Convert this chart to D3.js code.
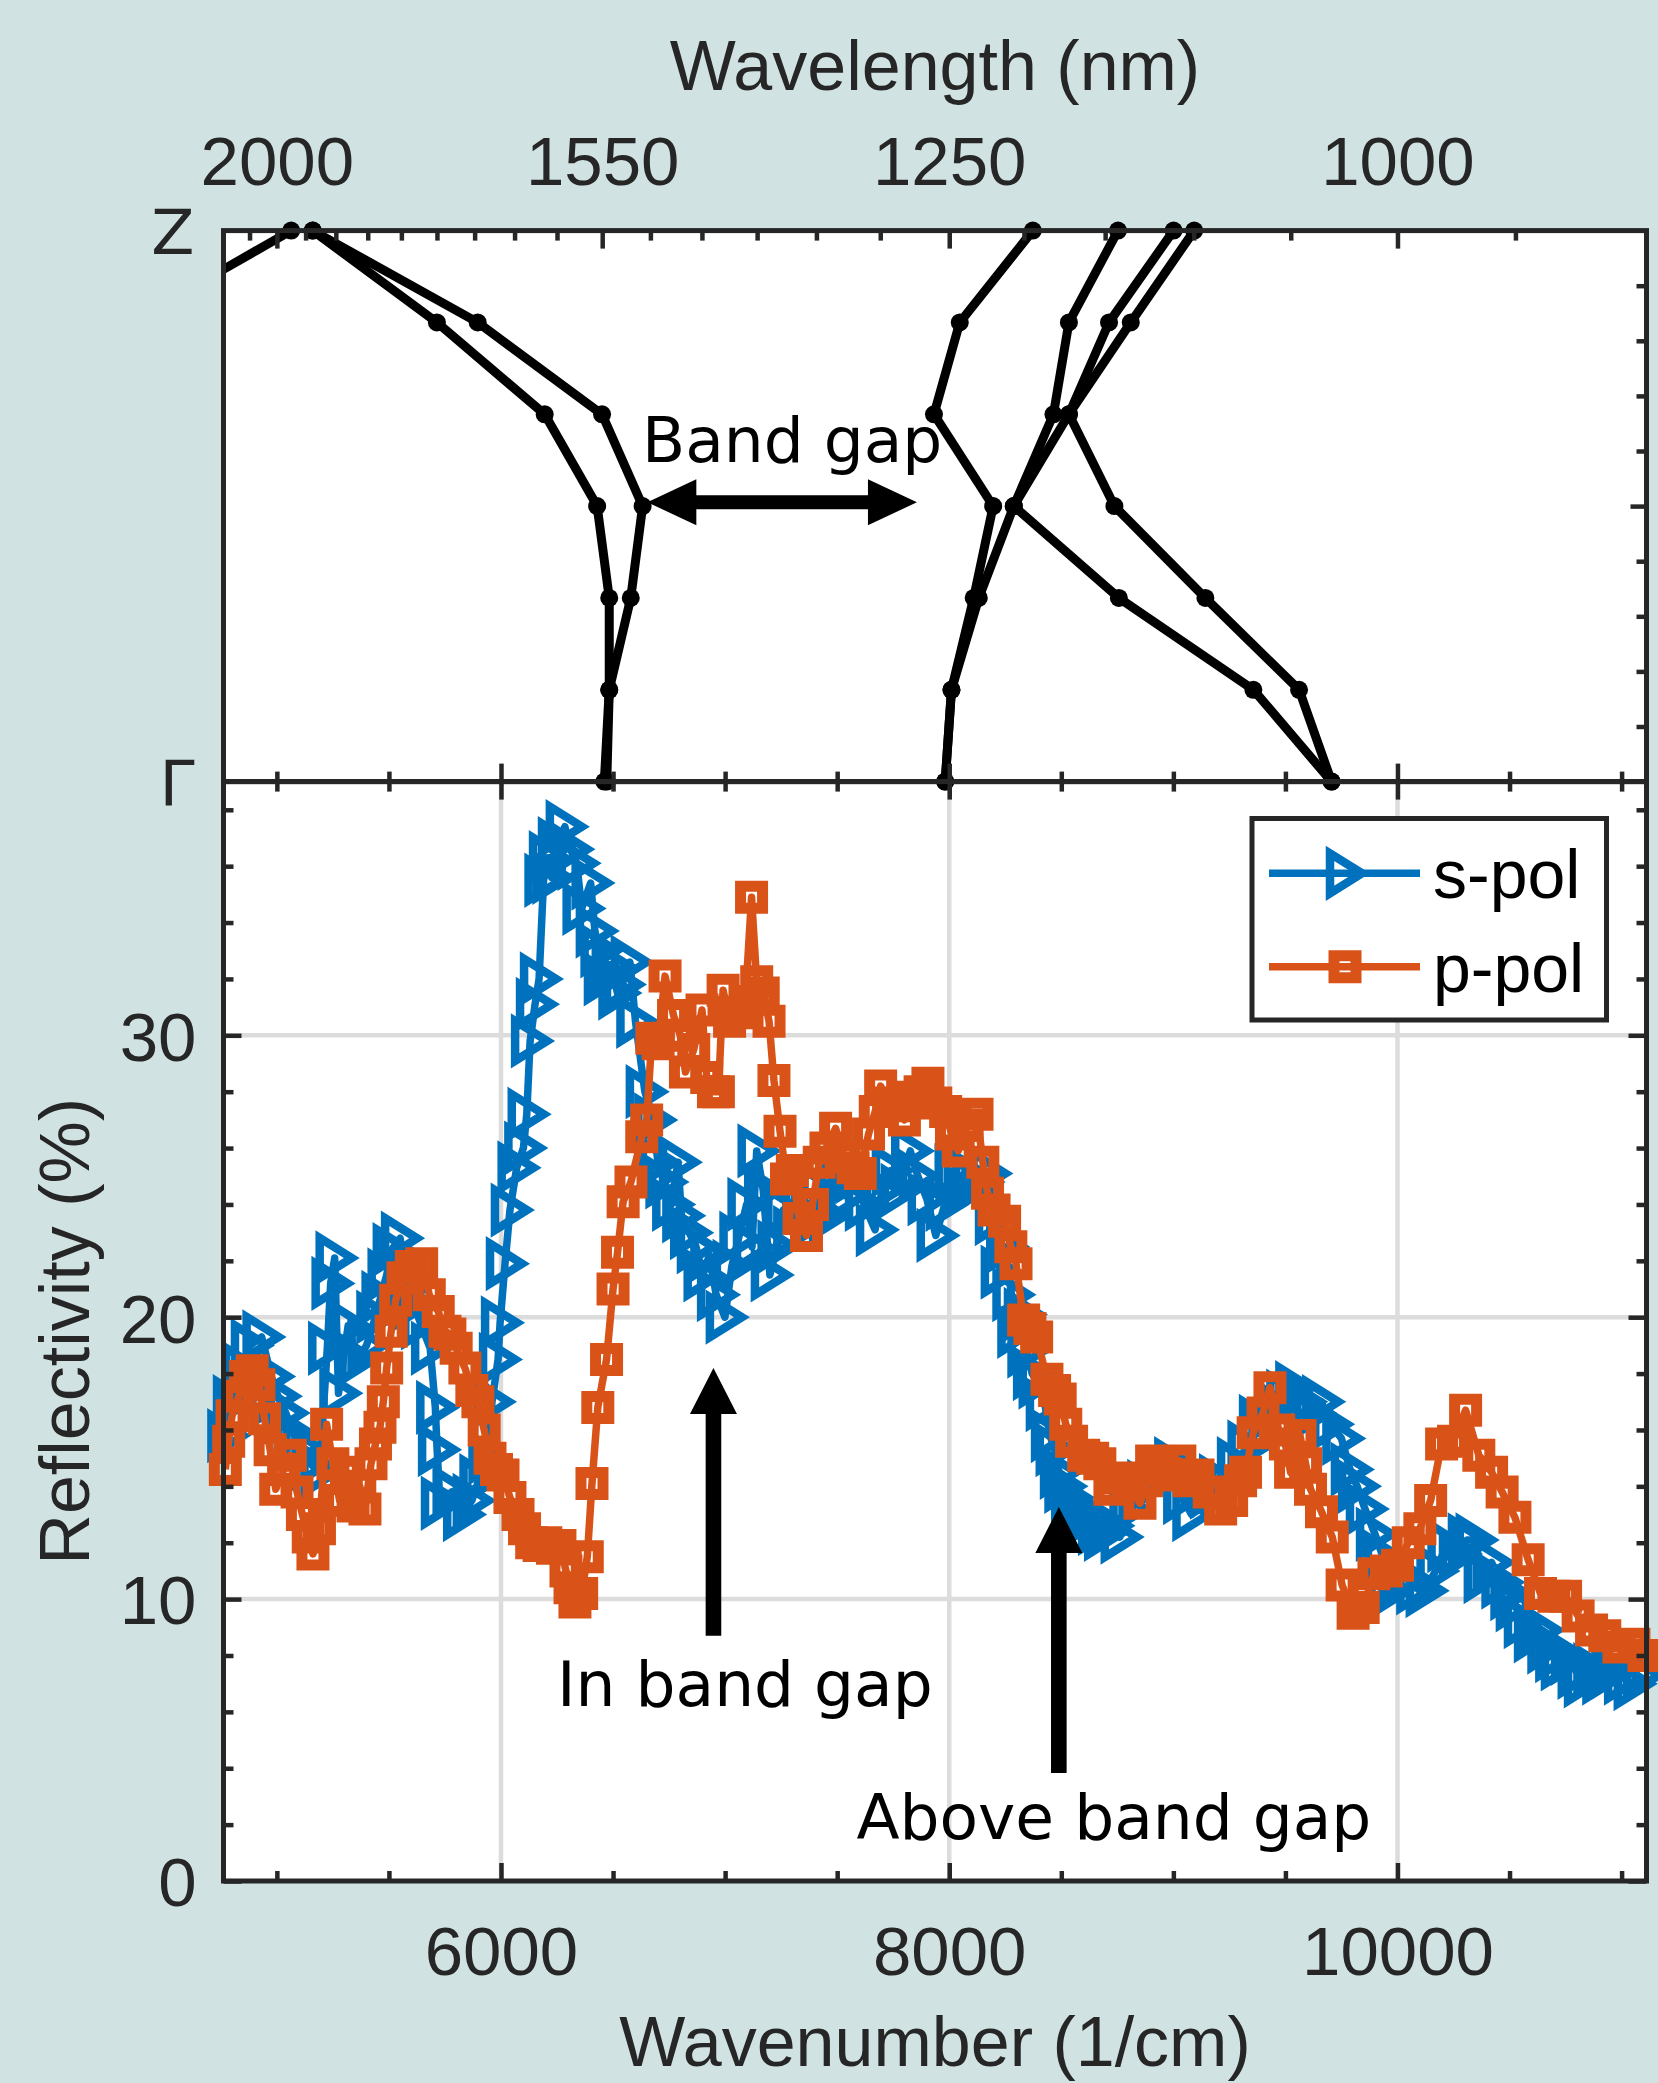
<!DOCTYPE html>
<html><head><meta charset="utf-8">
<script src="https://cdn.jsdelivr.net/npm/d3@7"></script>
<style>
html,body{margin:0;padding:0;background:#d0e3e2;}
svg{display:block;}
</style></head><body>
<svg id="chart" width="1658" height="2083"></svg>
<script>
// ---------------- DATA ----------------
// s-pol reflectivity (wavenumber 1/cm, %)
const sPolX = [4775,4800,4840,4880,4932,4975,5005,5040,5071,5110,5150,5190,5225,5240,5258,5275,5318,5360,5400,5440,5463,5490,5513,5550,5580,5610,5640,5684,5707,5715,5728,5780,5827,5870,5900,5940,5960,5987,5996,6018,6040,6070,6100,6115,6130,6152,6170,6190,6210,6226,6250,6285,6310,6338,6360,6400,6419,6440,6455,6490,6520,6540,6575,6600,6642,6680,6700,6730,6760,6790,6805,6840,6870,6900,6930,6960,6999,7030,7060,7096,7120,7141,7170,7200,7230,7260,7300,7340,7380,7420,7460,7500,7541,7580,7620,7669,7700,7740,7780,7826,7860,7900,7940,7980,8020,8060,8098,8140,8175,8200,8226,8250,8278,8300,8329,8345,8370,8395,8427,8450,8471,8490,8510,8540,8570,8600,8635,8660,8687,8720,8761,8800,8840,8880,8920,8967,9000,9040,9081,9120,9160,9200,9240,9280,9327,9378,9420,9460,9500,9540,9580,9620,9660,9700,9750,9788,9820,9855,9900,9935,9951,10000,10040,10080,10122,10170,10219,10270,10310,10345,10381,10420,10460,10500,10524,10560,10605,10640,10665,10700,10725,10770,10800,10828,10870,10910,10950,11007,11050,11090];
const sPolR = [15.8,17.0,18.2,19.0,19.3,17.9,17.2,16.6,15.9,15.4,14.8,14.5,18.9,21.2,22.1,17.3,19.7,18.5,19.0,20.0,20.7,21.5,22.4,22.8,21.0,20.5,19.8,18.9,16.8,15.3,13.4,13.8,13.0,13.5,14.2,15.0,17.0,18.5,19.8,21.9,23.8,25.3,26.0,27.2,29.8,31.1,32.0,35.5,36.3,35.6,36.8,37.4,36.6,36.1,34.5,35.4,33.7,33.0,32.0,32.5,31.5,31.8,32.6,30.5,28.0,27.0,25.5,24.8,24.0,25.5,23.6,23.0,22.5,21.5,22.2,20.8,20.0,21.8,22.8,24.0,22.5,25.9,24.5,21.5,22.5,23.8,23.0,24.2,23.5,24.5,23.6,24.8,24.3,25.0,24.0,23.1,24.5,25.2,24.5,25.9,25.0,24.2,22.9,24.0,25.2,24.5,25.0,24.8,25.1,23.5,21.6,22.5,20.8,19.5,20.1,18.8,18.0,17.7,16.9,15.8,15.3,14.5,14.0,13.6,13.3,12.8,13.0,12.5,12.3,12.6,12.2,13.2,13.8,14.0,14.3,14.5,14.8,13.6,13.0,14.2,13.8,14.2,14.0,14.8,15.4,16.3,15.8,16.8,17.2,17.5,17.0,16.6,17.0,16.2,15.7,14.6,14.0,13.2,12.3,11.5,10.2,10.6,10.8,10.4,10.3,11.0,11.9,11.6,12.1,12.1,10.8,11.3,10.6,10.2,9.8,9.2,8.7,8.9,8.3,8.0,7.7,7.9,7.4,7.1,7.5,7.2,7.4,7.2,7.0,7.3];
// p-pol reflectivity
const pPolX = [4770,4785,4800,4830,4860,4890,4920,4945,4970,4995,5030,5060,5090,5114,5140,5161,5190,5222,5250,5280,5310,5340,5370,5393,5420,5440,5460,5475,5490,5510,5530,5563,5600,5646,5680,5720,5750,5772,5800,5839,5870,5897,5925,5951,5980,6009,6040,6076,6105,6137,6170,6200,6230,6263,6290,6308,6330,6360,6385,6406,6432,6471,6500,6520,6545,6580,6628,6650,6673,6701,6732,6770,6800,6823,6860,6897,6918,6948,6970,6991,7020,7060,7090,7118,7141,7170,7196,7218,7245,7274,7300,7330,7363,7390,7420,7450,7493,7530,7571,7603,7640,7670,7694,7730,7770,7800,7840,7870,7905,7940,7984,8010,8040,8080,8124,8150,8171,8200,8247,8275,8298,8332,8360,8390,8436,8470,8495,8520,8546,8600,8640,8672,8717,8760,8800,8851,8880,8903,8950,8990,9029,9070,9110,9160,9211,9260,9300,9322,9356,9400,9431,9470,9500,9523,9565,9590,9612,9661,9709,9753,9802,9847,9895,9951,10000,10048,10100,10148,10197,10250,10304,10363,10420,10467,10524,10583,10638,10698,10750,10806,10866,10925,10988,11055,11100];
const pPolR = [14.6,15.6,16.5,17.2,17.9,18.1,17.6,16.4,15.3,13.9,14.6,15.1,13.8,13.0,12.2,11.6,12.5,16.2,14.8,13.5,14.5,13.3,14.0,13.2,14.8,15.5,16.1,17.0,18.2,19.5,20.6,21.4,21.8,21.9,20.8,20.2,19.5,19.4,18.9,18.2,17.4,17.0,16.0,15.0,14.6,14.4,13.6,13.0,12.5,12.0,11.9,12.0,11.8,11.9,11.0,10.4,9.9,10.2,11.5,14.1,16.8,18.5,21.0,22.3,24.1,24.8,26.4,27.0,29.9,29.7,32.1,30.7,30.0,28.7,29.5,30.9,28.5,28.0,28.0,31.6,30.5,30.8,31.2,34.9,31.9,31.5,30.5,28.4,26.6,24.9,25.2,23.5,22.9,24.0,25.5,26.0,26.7,25.7,25.3,25.1,26.5,27.3,28.2,27.6,27.5,27.0,27.8,28.0,28.3,27.6,27.3,26.5,25.9,26.8,27.2,25.5,24.4,23.8,23.4,22.5,21.9,19.9,19.6,19.3,17.8,17.4,17.1,16.2,15.6,15.1,15.0,14.8,13.9,14.3,14.1,13.4,14.2,14.9,14.6,14.4,14.9,14.2,14.4,13.8,13.2,13.5,14.2,14.5,15.9,16.6,17.5,16.0,15.5,14.5,15.8,14.8,13.9,13.1,12.2,10.5,9.5,9.7,10.9,11.0,11.2,12.0,12.5,13.5,15.5,15.6,16.7,15.1,14.5,13.8,12.9,11.4,10.2,10.1,10.1,9.4,8.9,8.7,8.3,8.4,8.0];

// Band structure: k-path positions (Γ=0 → Z=1) and band energies (1/cm)
const kPath = [0, 1/6, 2/6, 3/6, 4/6, 5/6, 1];
const bandL1 = [6461, 6483, 6579, 6632, 6451, 5896, 5160];
const bandL2 = [6472, 6483, 6483, 6429, 6195, 5714, 5160];
const bandL3 = [NaN, NaN, NaN, NaN, NaN, 4349, 5064];
const bandR1 = [7982, 8010, 8109, 8196, 7932, 8047, 8373];
const bandR2 = [7982, 8010, 8132, 8288, 8465, 8534, 8753];
const bandR3 = [9706, 9357, 8757, 8288, 8534, 8713, 9001];
const bandR4 = [9706, 9561, 9143, 8737, 8534, 8810, 9093];

// Ticks
const wnMajor = [6000, 8000, 10000];
const wnMinor = [5000, 5500, 6500, 7000, 7500, 8500, 9000, 9500, 10500, 11000];
const wlMajor = [2000, 1550, 1250, 1000];
const wlMinor = [2050, 1950, 1900, 1850, 1800, 1750, 1700, 1650, 1600, 1500, 1450, 1400, 1350, 1300, 1200, 1150, 1100, 1050, 950];
const rMajor = [0, 10, 20, 30];
const rMinor = [2, 4, 6, 8, 12, 14, 16, 18, 22, 24, 26, 28, 32, 34, 36, 38];
const kMinor = [0.1, 0.2, 0.3, 0.4, 0.6, 0.7, 0.8, 0.9];
const kMid = [0.5];
const kLabels = ["Γ", "Z"];
const seriesNames = ["s-pol", "p-pol"];

// ---------------- LAYOUT ----------------
const L = 223.5, R = 1646.5, T1 = 230.6, M = 781.6, B = 1881;
const AX = "#262626";
const SANS = "'Liberation Sans', Arial, Helvetica, sans-serif";
const DEJA = "'DejaVu Sans', sans-serif";
const BLUE = "#0072BD", ORANGE = "#D95319";

const svg = d3.select("#chart");
svg.append("rect").attr("width", 1658).attr("height", 2083).attr("fill", "#d0e3e2");

const x = d3.scaleLinear().domain([1e7 / 2100, 1e7 / 900]).range([L, R]);
const yR = d3.scaleLinear().domain([0, 39]).range([B, M]);
const yK = d3.scaleLinear().domain([0, 1]).range([M, T1]);

// plot backgrounds
svg.append("rect").attr("x", L).attr("y", T1).attr("width", R - L).attr("height", M - T1).attr("fill", "#fff");
svg.append("rect").attr("x", L).attr("y", M).attr("width", R - L).attr("height", B - M).attr("fill", "#fff");

// grid (lower)
const grid = svg.append("g").attr("stroke", "#dcdcdc").attr("stroke-width", 4.5);
wnMajor.forEach(v => grid.append("line").attr("x1", x(v)).attr("x2", x(v)).attr("y1", M).attr("y2", B));
rMajor.filter(v => v > 0).forEach(v => grid.append("line").attr("x1", L).attr("x2", R).attr("y1", yR(v)).attr("y2", yR(v)));

// ---------------- UPPER: band structure ----------------
svg.append("defs").append("clipPath").attr("id", "clipU")
  .append("rect").attr("x", L).attr("y", T1 - 15).attr("width", R - L).attr("height", M - T1 + 30);
const bands = [bandL1, bandL2, bandL3, bandR1, bandR2, bandR3, bandR4];
const bandLine = d3.line().defined(d => !isNaN(d[0])).x(d => x(d[0])).y(d => yK(d[1]));
const gb = svg.append("g");
bands.forEach(b => {
  const pts = b.map((v, i) => [v, kPath[i]]);
  gb.append("path").attr("d", bandLine(pts)).attr("fill", "none").attr("stroke", "#000")
    .attr("stroke-width", 9).attr("stroke-linejoin", "round").attr("clip-path", "url(#clipU)");
  gb.selectAll(null).data(pts.filter(p => !isNaN(p[0]) && p[0] >= x.domain()[0])).enter().append("circle")
    .attr("cx", d => x(d[0])).attr("cy", d => yK(d[1])).attr("r", 9).attr("fill", "#000");
});

// ---------------- LOWER: spectra ----------------
const line = d3.line().x(d => x(d[0])).y(d => yR(d[1]));
const triPath = "M-15,-20L-15,20L17,0Z";
const sqPath = "M-11,-11L11,-11L11,11L-11,11Z";
function drawSeries(xs, ys, color, marker) {
  const pts = xs.map((v, i) => [v, ys[i]]);
  const g = svg.append("g");
  g.append("path").attr("d", line(pts)).attr("fill", "none").attr("stroke", color)
    .attr("stroke-width", 7.5).attr("stroke-linejoin", "round");
  g.selectAll(null).data(pts).enter().append("path")
    .attr("d", marker).attr("transform", d => `translate(${x(d[0])},${yR(d[1])})`)
    .attr("fill", "none").attr("stroke", color).attr("stroke-width", marker === triPath ? 8.5 : 11)
    .attr("stroke-linejoin", "miter");
}
drawSeries(sPolX, sPolR, BLUE, triPath);
drawSeries(pPolX, pPolR, ORANGE, sqPath);

// ---------------- AXES ----------------
function styleAxis(g) {
  g.select(".domain").remove();
  g.selectAll(".tick line").attr("stroke", AX).attr("stroke-width", 4.5);
  g.selectAll("text").attr("fill", AX).style("font-family", SANS).style("font-size", "69px");
}
// lower bottom
svg.append("g").attr("transform", `translate(0,${B})`)
  .call(d3.axisBottom(x).tickValues(wnMinor).tickSize(-10).tickSizeOuter(0).tickFormat("")).call(styleAxis);
svg.append("g").attr("transform", `translate(0,${B})`)
  .call(d3.axisBottom(x).tickValues(wnMajor).tickSize(-18).tickSizeOuter(0).tickFormat(d3.format("d"))).call(styleAxis)
  .call(g => g.selectAll("text").attr("y", 94).attr("dy", null));
// shared Γ line: ticks down into lower, up into upper
[[-10, wnMinor], [-18, wnMajor]].forEach(([s, vals]) => {
  svg.append("g").attr("transform", `translate(0,${M})`)
    .call(d3.axisTop(x).tickValues(vals).tickSize(s).tickSizeOuter(0).tickFormat("")).call(styleAxis);
  svg.append("g").attr("transform", `translate(0,${M})`)
    .call(d3.axisBottom(x).tickValues(vals).tickSize(s).tickSizeOuter(0).tickFormat("")).call(styleAxis);
});
// lower left
svg.append("g").attr("transform", `translate(${L},0)`)
  .call(d3.axisLeft(yR).tickValues(rMinor).tickSize(-10).tickSizeOuter(0).tickFormat("")).call(styleAxis);
svg.append("g").attr("transform", `translate(${L},0)`)
  .call(d3.axisLeft(yR).tickValues(rMajor).tickSize(-18).tickSizeOuter(0).tickFormat(d3.format("d"))).call(styleAxis)
  .call(g => g.selectAll("text").attr("x", -27).attr("dy", "0.36em"));
// lower right
svg.append("g").attr("transform", `translate(${R},0)`)
  .call(d3.axisRight(yR).tickValues(rMinor).tickSize(-10).tickSizeOuter(0).tickFormat("")).call(styleAxis);
svg.append("g").attr("transform", `translate(${R},0)`)
  .call(d3.axisRight(yR).tickValues(rMajor).tickSize(-18).tickSizeOuter(0).tickFormat("")).call(styleAxis);
// upper top: wavelength
svg.append("g").attr("transform", `translate(0,${T1})`)
  .call(d3.axisTop(x).tickValues(wlMinor.map(l => 1e7 / l)).tickSize(-10).tickSizeOuter(0).tickFormat("")).call(styleAxis);
svg.append("g").attr("transform", `translate(0,${T1})`)
  .call(d3.axisTop(x).tickValues(wlMajor.map(l => 1e7 / l)).tickSize(-18).tickSizeOuter(0)
    .tickFormat((d, i) => wlMajor[i])).call(styleAxis)
  .call(g => g.selectAll("text").attr("y", -45.6).attr("dy", null));
// upper right: k-path ticks
svg.append("g").attr("transform", `translate(${R},0)`)
  .call(d3.axisRight(yK).tickValues(kMinor).tickSize(-10).tickSizeOuter(0).tickFormat("")).call(styleAxis);
svg.append("g").attr("transform", `translate(${R},0)`)
  .call(d3.axisRight(yK).tickValues(kMid).tickSize(-16).tickSizeOuter(0).tickFormat("")).call(styleAxis);
// upper left labels Γ / Z
svg.append("g").attr("transform", `translate(${L},0)`)
  .call(d3.axisLeft(yK).tickValues([0, 1]).tickSize(0).tickSizeOuter(0).tickFormat((d, i) => kLabels[i])).call(styleAxis)
  .call(g => g.selectAll("text").attr("x", -29).attr("dy", "0.36em").style("font-family", DEJA).style("font-size", "63px"));

// axis boxes
const box = svg.append("g").attr("fill", "none").attr("stroke", AX).attr("stroke-width", 5);
box.append("rect").attr("x", L).attr("y", T1).attr("width", R - L).attr("height", M - T1);
box.append("rect").attr("x", L).attr("y", M).attr("width", R - L).attr("height", B - M);

// axis titles
svg.append("text").attr("x", (L + R) / 2).attr("y", 90).attr("text-anchor", "middle")
  .attr("fill", AX).style("font-family", SANS).style("font-size", "70px").text("Wavelength (nm)");
svg.append("text").attr("x", (L + R) / 2).attr("y", 2066).attr("text-anchor", "middle")
  .attr("fill", AX).style("font-family", SANS).style("font-size", "70px").text("Wavenumber (1/cm)");
svg.append("text").attr("transform", `translate(89,${(M + B) / 2}) rotate(-90)`).attr("text-anchor", "middle")
  .attr("fill", AX).style("font-family", SANS).style("font-size", "70px").text("Reflectivity (%)");

// ---------------- ANNOTATIONS ----------------
function hArrow2(x1, x2, y) {  // double-headed horizontal arrow
  const hl = 49, hw = 23, sw = 7;
  const p = [[x1, y], [x1 + hl, y - hw], [x1 + hl, y - sw], [x2 - hl, y - sw], [x2 - hl, y - hw], [x2, y],
             [x2 - hl, y + hw], [x2 - hl, y + sw], [x1 + hl, y + sw], [x1 + hl, y + hw]];
  svg.append("path").attr("d", "M" + p.map(q => q.join(",")).join("L") + "Z").attr("fill", "#000");
}
function vArrowUp(xc, yTip, yBot) {
  const hl = 46, hw = 23.5, sw = 7.8;
  const p = [[xc, yTip], [xc + hw, yTip + hl], [xc + sw, yTip + hl], [xc + sw, yBot], [xc - sw, yBot],
             [xc - sw, yTip + hl], [xc - hw, yTip + hl]];
  svg.append("path").attr("d", "M" + p.map(q => q.join(",")).join("L") + "Z").attr("fill", "#000");
}
hArrow2(x(6653), x(7856), yK(0.507));
vArrowUp(x(6948), yR(18.2), yR(8.7));
vArrowUp(x(8489), yR(13.27), yR(3.83));
const ann = svg.append("g").attr("fill", "#000").style("font-family", DEJA).style("font-size", "63px");
ann.append("text").attr("x", x(6629)).attr("y", yK(0.58)).text("Band gap");
ann.append("text").attr("x", x(6250)).attr("y", yR(6.2)).text("In band gap");
ann.append("text").attr("x", x(7586)).attr("y", yR(1.5)).text("Above band gap");

// ---------------- LEGEND ----------------
const lg = svg.append("g");
lg.append("rect").attr("x", 1252).attr("y", 818.5).attr("width", 354.5).attr("height", 201.5)
  .attr("fill", "#fff").attr("stroke", AX).attr("stroke-width", 5);
[[873.3, BLUE, triPath, 8.5], [966.7, ORANGE, sqPath, 11]].forEach(([yy, c, m, sw], i) => {
  lg.append("line").attr("x1", 1269).attr("x2", 1420).attr("y1", yy).attr("y2", yy).attr("stroke", c).attr("stroke-width", 7.5);
  lg.append("path").attr("d", m).attr("transform", `translate(1345,${yy})`).attr("fill", "none")
    .attr("stroke", c).attr("stroke-width", sw);
  lg.append("text").attr("x", 1433).attr("y", yy + 25).attr("fill", "#000")
    .style("font-family", SANS).style("font-size", "68px").text(seriesNames[i]);
});
</script>
</body></html>
